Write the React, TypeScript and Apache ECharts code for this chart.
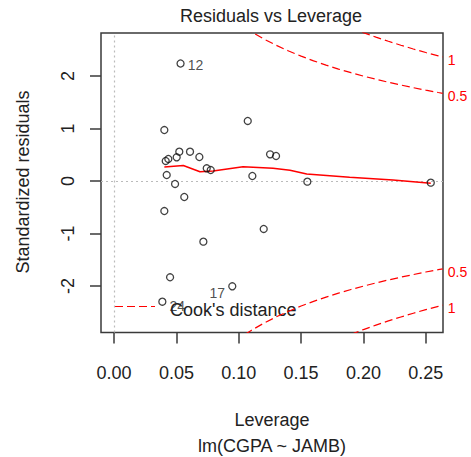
import React, { useEffect, useRef } from "react";
import * as echarts from "echarts";

const FONT = "'Liberation Sans', Arial, Helvetica, sans-serif";

// Leverage (hat values) and standardized residuals
const hatValues = [0.0533, 0.0403, 0.1072, 0.0414, 0.0435, 0.0502, 0.0523, 0.0609, 0.0684, 0.1251, 0.1299, 0.0743, 0.0775, 0.0422, 0.1109, 0.0489, 0.1550, 0.2540, 0.0563, 0.0403, 0.1200, 0.0716, 0.0449, 0.0948, 0.0387];
const stdResiduals = [2.24, 0.973, 1.145, 0.383, 0.421, 0.453, 0.560, 0.560, 0.459, 0.510, 0.478, 0.244, 0.211, 0.116, 0.097, -0.055, -0.011, -0.030, -0.303, -0.570, -0.912, -1.154, -1.832, -2.004, -2.297];
const pointIds = ["12", "", "", "", "", "", "", "", "", "", "", "", "", "", "", "", "", "", "", "", "", "", "", "17", "24"];

// red smoother
const smoothX = [0.0403, 0.0555, 0.0689, 0.0794, 0.1034, 0.1275, 0.1411, 0.1545, 0.1889, 0.2237, 0.2540];
const smoothY = [0.269, 0.297, 0.179, 0.192, 0.274, 0.244, 0.206, 0.135, 0.072, 0.021, -0.042];

// Cook's distance contours (leverage, |std residual|)
const cook05X = [0.105, 0.11, 0.12, 0.13, 0.14, 0.15, 0.16, 0.17, 0.18, 0.19, 0.20, 0.21, 0.22, 0.23, 0.24, 0.25, 0.26, 0.2636];
const cook05Y = [2.920, 2.844, 2.708, 2.587, 2.478, 2.380, 2.291, 2.210, 2.134, 2.065, 2.000, 1.940, 1.883, 1.830, 1.780, 1.732, 1.687, 1.672];
const cook1X = [0.19, 0.20, 0.21, 0.22, 0.23, 0.24, 0.25, 0.26, 0.2636];
const cook1Y = [2.920, 2.828, 2.743, 2.663, 2.588, 2.517, 2.449, 2.386, 2.364];

const xTicks = [0, 0.05, 0.1, 0.15, 0.2, 0.25];
const xTickLabels = ["0.00", "0.05", "0.10", "0.15", "0.20", "0.25"];
const yTicks = [-2, -1, 0, 1, 2];
const yTickLabels = ["-2", "-1", "0", "1", "2"];

const labelFor = (ticks: number[], labels: string[], v: number) => {
  let best = 0;
  for (let i = 1; i < ticks.length; i++) if (Math.abs(ticks[i] - v) < Math.abs(ticks[best] - v)) best = i;
  return labels[best];
};

const INK = "#222";
const BOX = "#3a3a3a";
const DASH = [8, 4];

export default function App() {
  const ref = useRef<HTMLDivElement>(null);
  useEffect(() => {
    document.body.style.margin = "0";
    const chart = echarts.init(ref.current!, undefined, { renderer: "svg" });
    const labelOffsets: Record<string, any> = {
      "12": { position: "right", distance: 3, offset: [0, 1] },
      "17": { position: "left", distance: 3, offset: [0, 7] },
      "24": { position: "right", distance: 3, offset: [0, 4] },
    };
    const scatterData = hatValues.map((h, i) => {
      const id = pointIds[i];
      const item: any = { value: [h, stdResiduals[i]] };
      if (id) {
        item.label = {
          show: true,
          formatter: id,
          color: INK,
          fontSize: 14,
          fontFamily: FONT,
          ...labelOffsets[id],
        };
      }
      return item;
    });
    const cookSeries = (xs: number[], ys: number[], sign: number, text: string) => ({
      type: "line",
      data: xs.map((x, i) => [x, sign * ys[i]]),
      showSymbol: false,
      symbol: "none",
      clip: true,
      silent: true,
      lineStyle: { color: "#ff0000", width: 1.2, type: DASH },
      endLabel: {
        show: true,
        formatter: text,
        color: "#ff0000",
        fontSize: 14,
        fontFamily: FONT,
        distance: 5,
        offset: [0, 3],
      },
      z: 3,
    });
    const option: any = {
      animation: false,
      grid: {
        left: 101,
        top: 33,
        width: 342,
        height: 299.5,
        show: true,
        borderColor: BOX,
        borderWidth: 1.5,
        backgroundColor: "transparent",
      },
      xAxis: {
        type: "value",
        min: -0.0105,
        max: 0.2638,
        axisLine: { show: false, onZero: false },
        splitLine: { show: false },
        axisTick: { show: true, length: 11, customValues: xTicks, lineStyle: { color: BOX, width: 1.5 } },
        axisLabel: {
          customValues: xTicks,
          formatter: (v: number) => labelFor(xTicks, xTickLabels, v),
          margin: 31,
          fontSize: 18,
          color: INK,
          fontFamily: FONT,
        },
      },
      yAxis: {
        type: "value",
        min: -2.884,
        max: 2.821,
        axisLine: { show: false, onZero: false },
        splitLine: { show: false },
        axisTick: { show: true, length: 11, customValues: yTicks, lineStyle: { color: BOX, width: 1.5 } },
        axisLabel: {
          customValues: yTicks,
          formatter: (v: number) => labelFor(yTicks, yTickLabels, v),
          rotate: 90,
          margin: 24,
          fontSize: 18,
          color: INK,
          fontFamily: FONT,
        },
      },
      series: [
        {
          type: "scatter",
          data: scatterData,
          symbol: "circle",
          symbolSize: 7,
          itemStyle: { color: "rgba(0,0,0,0)", borderColor: "#111", borderWidth: 1.3 },
          z: 4,
          markLine: {
            silent: true,
            symbol: "none",
            label: { show: false },
            lineStyle: { color: "#bbbbbb", width: 1.2, type: [2, 3] },
            data: [{ yAxis: 0 }, { xAxis: 0 }],
            z: 1,
          },
        },
        {
          type: "line",
          data: smoothX.map((x, i) => [x, smoothY[i]]),
          showSymbol: false,
          symbol: "none",
          silent: true,
          lineStyle: { color: "#ff0000", width: 1.5 },
          z: 3,
        },
        cookSeries(cook05X, cook05Y, 1, "0.5"),
        cookSeries(cook05X, cook05Y, -1, "0.5"),
        cookSeries(cook1X, cook1Y, 1, "1"),
        cookSeries(cook1X, cook1Y, -1, "1"),
      ],
      graphic: [
        {
          type: "text",
          x: 271,
          y: 16,
          style: { text: "Residuals vs Leverage", font: `18px ${FONT}`, fill: INK, align: "center", verticalAlign: "middle", textAlign: "center", textVerticalAlign: "middle" },
        },
        {
          type: "text",
          x: 23,
          y: 182,
          rotation: Math.PI / 2,
          style: { text: "Standardized residuals", font: `18px ${FONT}`, fill: INK, align: "center", verticalAlign: "middle", textAlign: "center", textVerticalAlign: "middle" },
        },
        {
          type: "text",
          x: 272,
          y: 420,
          style: { text: "Leverage", font: `18px ${FONT}`, fill: INK, align: "center", verticalAlign: "middle", textAlign: "center", textVerticalAlign: "middle" },
        },
        {
          type: "text",
          x: 272,
          y: 446,
          style: { text: "lm(CGPA ~ JAMB)", font: `18px ${FONT}`, fill: INK, align: "center", verticalAlign: "middle", textAlign: "center", textVerticalAlign: "middle" },
        },
        {
          type: "line",
          shape: { x1: 115, y1: 306.5, x2: 155, y2: 306.5 },
          style: { stroke: "#ff0000", lineWidth: 1.2, lineDash: DASH },
        },
        {
          type: "text",
          x: 170,
          y: 310,
          style: { text: "Cook's distance", font: `18px ${FONT}`, fill: INK, align: "left", verticalAlign: "middle", textAlign: "left", textVerticalAlign: "middle" },
        },
      ],
    };
    chart.setOption(option);
    return () => chart.dispose();
  }, []);
  return <div ref={ref} style={{ position: "absolute", left: 0, top: 0, width: 471, height: 457 }} />;
}
